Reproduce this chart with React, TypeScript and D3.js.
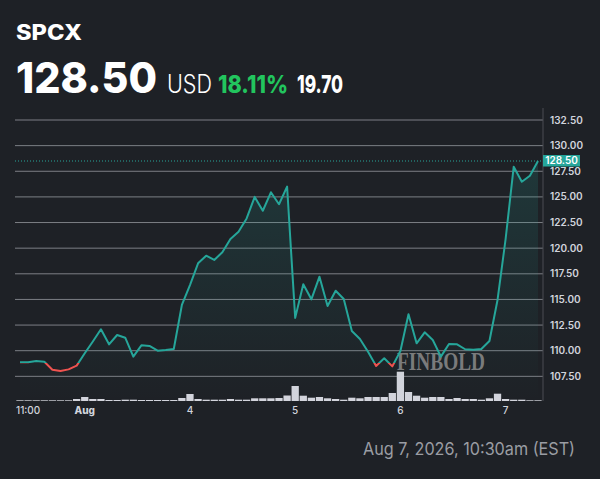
import React, { useEffect, useRef } from "react";
import * as d3 from "d3";

// 30-minute closes, Jul 31 12:00 -> Aug 7 11:30
const prices = [
  108.87, 108.87, 109.0, 108.93, 108.15, 108.02, 108.18, 108.54,
  109.75, 110.9, 112.09, 110.62, 111.53, 111.27, 109.42, 110.52, 110.46, 110.0, 110.07, 110.17, 114.46, 116.4, 118.52,
  119.27, 118.85, 119.6, 120.9, 121.6, 122.9, 125.0, 123.65, 125.45, 124.28, 126.0, 113.2,
  116.48, 115.01, 117.22, 114.36, 115.85, 115.04, 111.92, 111.14, 109.9, 108.51, 109.26, 108.47,
  109.97, 113.55, 110.72, 111.79, 111.04, 109.42, 110.65, 110.62, 110.14, 110.1, 110.17, 110.95, 114.95,
  120.9, 127.95, 126.48, 127.07, 128.5,
];

const volumes = [
  7, 7, 7, 7, 7, 7, 7, 20,
  40, 20, 20, 10, 10, 13, 13, 10, 10, 10, 10, 10, 30, 70, 20,
  13, 13, 13, 20, 13, 13, 27, 27, 27, 30, 55, 150,
  53, 33, 40, 27, 20, 13, 33, 27, 40, 40, 40, 80,
  293, 90, 53, 33, 40, 40, 20, 30, 20, 20, 13, 27, 73,
  20, 13, 13, 7, 7,
];

const tickIndex = [0, 8, 21, 34, 47, 60];
const tickLabels = ["11:00", "Aug", "4", "5", "6", "7"];
const yTicks = [107.5, 110, 112.5, 115, 117.5, 120, 122.5, 125, 127.5, 130, 132.5];

const prevClose = 108.8;
const lastPrice = 128.5;

const BG = "#1e2126";
const TEAL = "#26a69a";
const RED = "#ef5350";

export default function App() {
  const svgRef = useRef<SVGSVGElement | null>(null);

  useEffect(() => {
    if (!svgRef.current) return;
    d3.select(svgRef.current).selectAll("*").remove();

    const W = 600;
    const H = 479;
    const left = 15;
    const right = 543;
    const top = 108;
    const bottom = 401;

    const svg = d3.select(svgRef.current).attr("width", W).attr("height", H);

    svg.append("rect").attr("width", W).attr("height", H).attr("fill", BG);

    const x = d3.scaleLinear().domain([0, prices.length - 1]).range([20, 538]);
    const y = d3.scaleLinear().domain([110, 132.5]).range([350.7, 120]);
    const vy = d3.scaleLinear().domain([0, d3.max(volumes) as number]).range([0, 29.3]);

    // header
    const font = "Inter, 'DejaVu Sans', sans-serif";
    svg.append("text").attr("x", 16).attr("y", 40).attr("font-family", font)
      .attr("font-size", 21).attr("font-weight", 800).attr("fill", "#fff")
      .attr("textLength", 66).attr("lengthAdjust", "spacingAndGlyphs").text("SPCX");
    svg.append("text").attr("x", 16).attr("y", 93).attr("font-family", font)
      .attr("font-size", 43).attr("font-weight", 800).attr("fill", "#fff")
      .attr("textLength", 141).attr("lengthAdjust", "spacingAndGlyphs").text("128.50");
    svg.append("text").attr("x", 167).attr("y", 93).attr("font-family", font)
      .attr("font-size", 25).attr("font-weight", 300).attr("fill", "#fff")
      .attr("textLength", 45).attr("lengthAdjust", "spacingAndGlyphs").text("USD");
    svg.append("text").attr("x", 218).attr("y", 93).attr("font-family", font)
      .attr("font-size", 25).attr("font-weight", 800).attr("fill", "#22c55e")
      .attr("textLength", 70).attr("lengthAdjust", "spacingAndGlyphs").text("18.11%");
    svg.append("text").attr("x", 297).attr("y", 93).attr("font-family", font)
      .attr("font-size", 25).attr("font-weight", 800).attr("fill", "#fff")
      .attr("textLength", 46).attr("lengthAdjust", "spacingAndGlyphs").text("19.70");

    // grid
    svg.append("g").selectAll("line").data(yTicks).join("line")
      .attr("x1", left).attr("x2", right)
      .attr("y1", (d) => y(d)).attr("y2", (d) => y(d))
      .attr("stroke", "#7c7f85").attr("stroke-width", 1);

    svg.append("line").attr("x1", right).attr("x2", right).attr("y1", top).attr("y2", bottom)
      .attr("stroke", "#4a4d53").attr("stroke-width", 1);

    // y labels
    svg.append("g").selectAll("text").data(yTicks).join("text")
      .attr("x", 550).attr("y", (d) => y(d) + 3.5)
      .attr("font-family", font).attr("font-size", 10).attr("font-weight", 600)
      .attr("fill", "#d1d4dc").text((d) => d3.format(".2f")(d));

    // volume
    const bw = 7.3;
    svg.append("g").selectAll("rect").data(volumes).join("rect")
      .attr("x", (_, i) => x(i) - bw / 2).attr("width", bw)
      .attr("y", (d) => bottom - vy(d)).attr("height", (d) => vy(d))
      .attr("fill", "#d3d4dc");

    // area
    const defs = svg.append("defs");
    const grad = defs.append("linearGradient").attr("id", "fillGrad")
      .attr("gradientUnits", "userSpaceOnUse")
      .attr("x1", 0).attr("x2", 0).attr("y1", 120).attr("y2", bottom);
    grad.append("stop").attr("offset", "0%").attr("stop-color", TEAL).attr("stop-opacity", 0.2);
    grad.append("stop").attr("offset", "100%").attr("stop-color", TEAL).attr("stop-opacity", 0);

    const area = d3.area<number>()
      .x((_, i) => x(i)).y0(bottom).y1((d) => y(d));
    svg.append("path").datum(prices).attr("d", area).attr("fill", "url(#fillGrad)");

    // watermark
    svg.append("text").attr("x", 397).attr("y", 370)
      .attr("font-family", "'Liberation Serif', 'DejaVu Serif', serif")
      .attr("font-size", 26).attr("font-weight", 700).attr("fill", "#8c8c8c")
      .attr("fill-opacity", 0.85)
      .attr("textLength", 88).attr("lengthAdjust", "spacingAndGlyphs").text("FINBOLD");

    // baseline split line
    const base = y(prevClose);
    defs.append("clipPath").attr("id", "above").append("rect")
      .attr("x", 0).attr("y", 0).attr("width", W).attr("height", base);
    defs.append("clipPath").attr("id", "below").append("rect")
      .attr("x", 0).attr("y", base).attr("width", W).attr("height", H - base);

    const line = d3.line<number>().x((_, i) => x(i)).y((d) => y(d));
    svg.append("path").datum(prices).attr("d", line).attr("fill", "none")
      .attr("stroke", TEAL).attr("stroke-width", 2).attr("stroke-linejoin", "round")
      .attr("clip-path", "url(#above)");
    svg.append("path").datum(prices).attr("d", line).attr("fill", "none")
      .attr("stroke", RED).attr("stroke-width", 2).attr("stroke-linejoin", "round")
      .attr("clip-path", "url(#below)");

    // last price
    const ly = y(lastPrice);
    svg.append("line").attr("x1", left).attr("x2", right).attr("y1", ly).attr("y2", ly)
      .attr("stroke", TEAL).attr("stroke-width", 1).attr("stroke-dasharray", "1,2");
    svg.append("rect").attr("x", right).attr("y", ly - 6).attr("width", 37).attr("height", 11.5)
      .attr("fill", TEAL);
    svg.append("text").attr("x", right + 18.5).attr("y", ly + 3).attr("text-anchor", "middle")
      .attr("font-family", font).attr("font-size", 10).attr("font-weight", 600)
      .attr("fill", "#fff").text(lastPrice.toFixed(2));

    // x labels
    svg.append("g").selectAll("text").data(tickIndex).join("text")
      .attr("x", (d, i) => (i === 0 ? 16 : x(d)))
      .attr("y", 414)
      .attr("text-anchor", (_, i) => (i === 0 ? "start" : "middle"))
      .attr("font-family", font).attr("font-size", 10)
      .attr("font-weight", (_, i) => (i === 1 ? 800 : 500))
      .attr("fill", "#d1d4dc")
      .text((_, i) => tickLabels[i]);

    // footer date
    svg.append("text").attr("x", 575).attr("y", 455).attr("text-anchor", "end")
      .attr("font-family", font).attr("font-size", 17).attr("fill", "#9a9da3")
      .attr("textLength", 212).attr("lengthAdjust", "spacingAndGlyphs")
      .text("Aug 7, 2026, 10:30am (EST)");
  }, []);

  return (
    <div style={{ position: "absolute", left: 0, top: 0 }}>
      <svg ref={svgRef} style={{ display: "block" }}></svg>
    </div>
  );
}
